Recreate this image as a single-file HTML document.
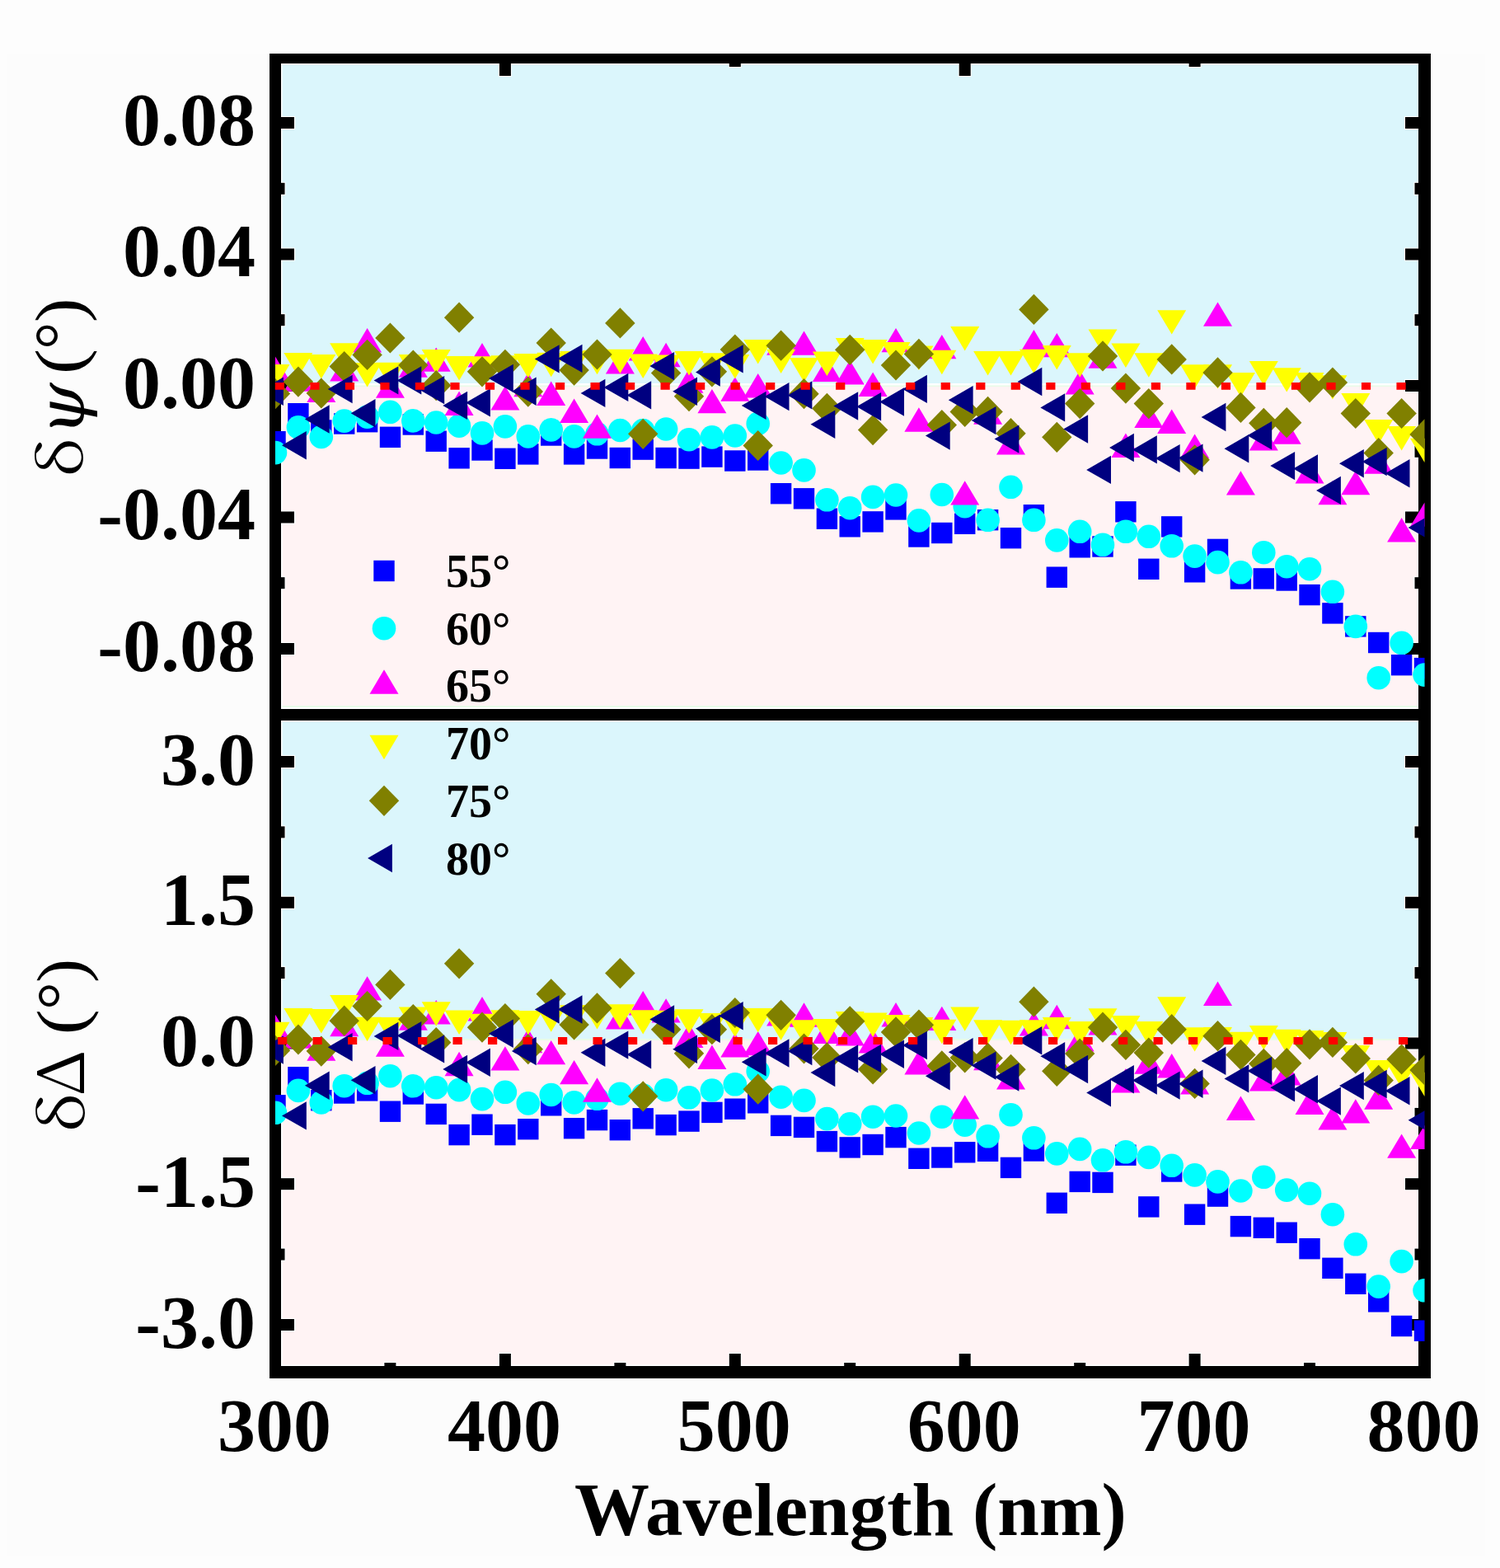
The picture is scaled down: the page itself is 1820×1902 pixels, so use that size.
<!DOCTYPE html>
<html><head><meta charset="utf-8"><style>
html,body{margin:0;padding:0;background:#FDFDFD;}
body{width:1820px;height:1902px;overflow:hidden;position:relative;}
#g{position:absolute;left:9px;top:65px;width:1793px;height:1822px;background:#FCFCFC;}
svg{position:absolute;left:0;top:0;}
.tk{font-family:'Liberation Serif',serif;font-weight:bold;font-size:92px;fill:#000;}
.lg{font-family:'Liberation Serif',serif;font-weight:bold;font-size:56px;fill:#000;}
.ax{font-family:'Liberation Serif',serif;font-weight:normal;font-size:84px;fill:#000;}
.xl{font-family:'Liberation Serif',serif;font-weight:bold;font-size:91px;fill:#000;}
</style></head><body><div id="g"></div>
<svg width="1820" height="1902" viewBox="0 0 1820 1902">
<defs>
<clipPath id="ct"><rect x="334" y="71" width="1394.5" height="796"/></clipPath>
<clipPath id="cb"><rect x="334" y="867" width="1394.5" height="797"/></clipPath>
</defs>
<!-- backgrounds -->
<rect x="341" y="77" width="1380" height="783" fill="#FFFFFF"/>
<rect x="342.5" y="78.5" width="1378.5" height="386.5" fill="#DBF6FC"/>
<rect x="342.5" y="467.5" width="1378.5" height="1.5" fill="#E8FBE8"/>
<rect x="342.5" y="469" width="1378.5" height="387" fill="#FFF3F4"/>
<rect x="342.5" y="856" width="1378.5" height="2" fill="#E8FBE8"/>
<rect x="341" y="874" width="1380" height="783" fill="#FFFFFF"/>
<rect x="342.5" y="875.5" width="1378.5" height="384.5" fill="#DBF6FC"/>
<rect x="342.5" y="1260" width="1378.5" height="2" fill="#E8FBE8"/>
<rect x="342.5" y="1262" width="1378.5" height="393.5" fill="#FFF3F4"/>
<rect x="341" y="141.0" width="17" height="16" fill="#fff"/><rect x="1704" y="141.0" width="17" height="16" fill="#fff"/><rect x="341" y="300.5" width="17" height="16" fill="#fff"/><rect x="1704" y="300.5" width="17" height="16" fill="#fff"/><rect x="341" y="460.0" width="17" height="16" fill="#fff"/><rect x="1704" y="460.0" width="17" height="16" fill="#fff"/><rect x="341" y="619.5" width="17" height="16" fill="#fff"/><rect x="1704" y="619.5" width="17" height="16" fill="#fff"/><rect x="341" y="779.0" width="17" height="16" fill="#fff"/><rect x="1704" y="779.0" width="17" height="16" fill="#fff"/><rect x="341" y="220.8" width="5.5" height="16" fill="#fff"/><rect x="1715.5" y="220.8" width="5.5" height="16" fill="#fff"/><rect x="341" y="380.2" width="5.5" height="16" fill="#fff"/><rect x="1715.5" y="380.2" width="5.5" height="16" fill="#fff"/><rect x="341" y="539.8" width="5.5" height="16" fill="#fff"/><rect x="1715.5" y="539.8" width="5.5" height="16" fill="#fff"/><rect x="341" y="699.2" width="5.5" height="16" fill="#fff"/><rect x="1715.5" y="699.2" width="5.5" height="16" fill="#fff"/><rect x="341" y="916.0" width="17" height="16" fill="#fff"/><rect x="1704" y="916.0" width="17" height="16" fill="#fff"/><rect x="341" y="1086.8" width="17" height="16" fill="#fff"/><rect x="1704" y="1086.8" width="17" height="16" fill="#fff"/><rect x="341" y="1257.5" width="17" height="16" fill="#fff"/><rect x="1704" y="1257.5" width="17" height="16" fill="#fff"/><rect x="341" y="1428.2" width="17" height="16" fill="#fff"/><rect x="1704" y="1428.2" width="17" height="16" fill="#fff"/><rect x="341" y="1599.0" width="17" height="16" fill="#fff"/><rect x="1704" y="1599.0" width="17" height="16" fill="#fff"/><rect x="341" y="1001.4" width="5.5" height="16" fill="#fff"/><rect x="1715.5" y="1001.4" width="5.5" height="16" fill="#fff"/><rect x="341" y="1172.1" width="5.5" height="16" fill="#fff"/><rect x="1715.5" y="1172.1" width="5.5" height="16" fill="#fff"/><rect x="341" y="1342.9" width="5.5" height="16" fill="#fff"/><rect x="1715.5" y="1342.9" width="5.5" height="16" fill="#fff"/><rect x="341" y="1513.6" width="5.5" height="16" fill="#fff"/><rect x="1715.5" y="1513.6" width="5.5" height="16" fill="#fff"/><rect x="465.4" y="1652" width="16" height="5" fill="#fff"/><rect x="604.9" y="1641" width="16" height="16" fill="#fff"/><rect x="744.4" y="1652" width="16" height="5" fill="#fff"/><rect x="883.8" y="1641" width="16" height="16" fill="#fff"/><rect x="1023.2" y="1652" width="16" height="5" fill="#fff"/><rect x="1162.7" y="1641" width="16" height="16" fill="#fff"/><rect x="1302.2" y="1652" width="16" height="5" fill="#fff"/><rect x="1441.6" y="1641" width="16" height="16" fill="#fff"/><rect x="1581.0" y="1652" width="16" height="5" fill="#fff"/><rect x="604.9" y="77" width="16" height="16" fill="#fff"/><rect x="883.8" y="77" width="16" height="5" fill="#fff"/><rect x="1162.7" y="77" width="16" height="16" fill="#fff"/><rect x="1441.6" y="77" width="16" height="5" fill="#fff"/>
<!-- frame -->
<rect x="327" y="65" width="1409" height="12" fill="#000"/>
<rect x="327" y="860" width="1409" height="14" fill="#000"/>
<rect x="327" y="1657" width="1409" height="15" fill="#000"/>
<rect x="327" y="65" width="14" height="1607" fill="#000"/>
<rect x="1721" y="65" width="15" height="1607" fill="#000"/>
<rect x="341" y="142.0" width="16" height="14" fill="#000"/><rect x="1705" y="142.0" width="16" height="14" fill="#000"/><rect x="341" y="301.5" width="16" height="14" fill="#000"/><rect x="1705" y="301.5" width="16" height="14" fill="#000"/><rect x="341" y="461.0" width="16" height="14" fill="#000"/><rect x="1705" y="461.0" width="16" height="14" fill="#000"/><rect x="341" y="620.5" width="16" height="14" fill="#000"/><rect x="1705" y="620.5" width="16" height="14" fill="#000"/><rect x="341" y="780.0" width="16" height="14" fill="#000"/><rect x="1705" y="780.0" width="16" height="14" fill="#000"/><rect x="341" y="221.8" width="4.5" height="14" fill="#000"/><rect x="1716.5" y="221.8" width="4.5" height="14" fill="#000"/><rect x="341" y="381.2" width="4.5" height="14" fill="#000"/><rect x="1716.5" y="381.2" width="4.5" height="14" fill="#000"/><rect x="341" y="540.8" width="4.5" height="14" fill="#000"/><rect x="1716.5" y="540.8" width="4.5" height="14" fill="#000"/><rect x="341" y="700.2" width="4.5" height="14" fill="#000"/><rect x="1716.5" y="700.2" width="4.5" height="14" fill="#000"/><rect x="341" y="917.0" width="16" height="14" fill="#000"/><rect x="1705" y="917.0" width="16" height="14" fill="#000"/><rect x="341" y="1087.8" width="16" height="14" fill="#000"/><rect x="1705" y="1087.8" width="16" height="14" fill="#000"/><rect x="341" y="1258.5" width="16" height="14" fill="#000"/><rect x="1705" y="1258.5" width="16" height="14" fill="#000"/><rect x="341" y="1429.2" width="16" height="14" fill="#000"/><rect x="1705" y="1429.2" width="16" height="14" fill="#000"/><rect x="341" y="1600.0" width="16" height="14" fill="#000"/><rect x="1705" y="1600.0" width="16" height="14" fill="#000"/><rect x="341" y="1002.4" width="4.5" height="14" fill="#000"/><rect x="1716.5" y="1002.4" width="4.5" height="14" fill="#000"/><rect x="341" y="1173.1" width="4.5" height="14" fill="#000"/><rect x="1716.5" y="1173.1" width="4.5" height="14" fill="#000"/><rect x="341" y="1343.9" width="4.5" height="14" fill="#000"/><rect x="1716.5" y="1343.9" width="4.5" height="14" fill="#000"/><rect x="341" y="1514.6" width="4.5" height="14" fill="#000"/><rect x="1716.5" y="1514.6" width="4.5" height="14" fill="#000"/><rect x="466.4" y="1653" width="14" height="4" fill="#000"/><rect x="605.9" y="1642" width="14" height="15" fill="#000"/><rect x="745.4" y="1653" width="14" height="4" fill="#000"/><rect x="884.8" y="1642" width="14" height="15" fill="#000"/><rect x="1024.2" y="1653" width="14" height="4" fill="#000"/><rect x="1163.7" y="1642" width="14" height="15" fill="#000"/><rect x="1303.2" y="1653" width="14" height="4" fill="#000"/><rect x="1442.6" y="1642" width="14" height="15" fill="#000"/><rect x="1582.0" y="1653" width="14" height="4" fill="#000"/><rect x="605.9" y="77" width="14" height="15" fill="#000"/><rect x="884.8" y="77" width="14" height="4" fill="#000"/><rect x="1163.7" y="77" width="14" height="15" fill="#000"/><rect x="1442.6" y="77" width="14" height="4" fill="#000"/>
<g clip-path="url(#ct)">
<rect x="321.3" y="523.0" width="25.4" height="25.4" fill="#0000FF"/>
<rect x="349.2" y="489.0" width="25.4" height="25.4" fill="#0000FF"/>
<rect x="377.1" y="509.3" width="25.4" height="25.4" fill="#0000FF"/>
<rect x="405.0" y="501.3" width="25.4" height="25.4" fill="#0000FF"/>
<rect x="432.9" y="499.0" width="25.4" height="25.4" fill="#0000FF"/>
<rect x="460.8" y="517.6" width="25.4" height="25.4" fill="#0000FF"/>
<rect x="488.6" y="502.3" width="25.4" height="25.4" fill="#0000FF"/>
<rect x="516.5" y="522.5" width="25.4" height="25.4" fill="#0000FF"/>
<rect x="544.4" y="543.1" width="25.4" height="25.4" fill="#0000FF"/>
<rect x="572.3" y="533.3" width="25.4" height="25.4" fill="#0000FF"/>
<rect x="600.2" y="543.6" width="25.4" height="25.4" fill="#0000FF"/>
<rect x="628.1" y="538.2" width="25.4" height="25.4" fill="#0000FF"/>
<rect x="656.0" y="515.3" width="25.4" height="25.4" fill="#0000FF"/>
<rect x="683.9" y="538.2" width="25.4" height="25.4" fill="#0000FF"/>
<rect x="711.8" y="531.3" width="25.4" height="25.4" fill="#0000FF"/>
<rect x="739.6" y="542.8" width="25.4" height="25.4" fill="#0000FF"/>
<rect x="767.5" y="532.4" width="25.4" height="25.4" fill="#0000FF"/>
<rect x="795.4" y="542.8" width="25.4" height="25.4" fill="#0000FF"/>
<rect x="823.3" y="543.4" width="25.4" height="25.4" fill="#0000FF"/>
<rect x="851.2" y="541.4" width="25.4" height="25.4" fill="#0000FF"/>
<rect x="879.1" y="546.3" width="25.4" height="25.4" fill="#0000FF"/>
<rect x="907.0" y="545.3" width="25.4" height="25.4" fill="#0000FF"/>
<rect x="934.9" y="586.0" width="25.4" height="25.4" fill="#0000FF"/>
<rect x="962.8" y="592.1" width="25.4" height="25.4" fill="#0000FF"/>
<rect x="990.7" y="616.5" width="25.4" height="25.4" fill="#0000FF"/>
<rect x="1018.5" y="626.1" width="25.4" height="25.4" fill="#0000FF"/>
<rect x="1046.4" y="620.2" width="25.4" height="25.4" fill="#0000FF"/>
<rect x="1074.3" y="605.2" width="25.4" height="25.4" fill="#0000FF"/>
<rect x="1102.2" y="638.3" width="25.4" height="25.4" fill="#0000FF"/>
<rect x="1130.1" y="633.8" width="25.4" height="25.4" fill="#0000FF"/>
<rect x="1158.0" y="622.6" width="25.4" height="25.4" fill="#0000FF"/>
<rect x="1185.9" y="618.0" width="25.4" height="25.4" fill="#0000FF"/>
<rect x="1213.8" y="640.0" width="25.4" height="25.4" fill="#0000FF"/>
<rect x="1241.7" y="612.0" width="25.4" height="25.4" fill="#0000FF"/>
<rect x="1269.6" y="687.5" width="25.4" height="25.4" fill="#0000FF"/>
<rect x="1297.5" y="651.1" width="25.4" height="25.4" fill="#0000FF"/>
<rect x="1325.3" y="650.3" width="25.4" height="25.4" fill="#0000FF"/>
<rect x="1353.2" y="608.1" width="25.4" height="25.4" fill="#0000FF"/>
<rect x="1381.1" y="677.6" width="25.4" height="25.4" fill="#0000FF"/>
<rect x="1409.0" y="626.2" width="25.4" height="25.4" fill="#0000FF"/>
<rect x="1436.9" y="681.1" width="25.4" height="25.4" fill="#0000FF"/>
<rect x="1464.8" y="653.7" width="25.4" height="25.4" fill="#0000FF"/>
<rect x="1492.7" y="689.3" width="25.4" height="25.4" fill="#0000FF"/>
<rect x="1520.6" y="689.2" width="25.4" height="25.4" fill="#0000FF"/>
<rect x="1548.5" y="691.3" width="25.4" height="25.4" fill="#0000FF"/>
<rect x="1576.3" y="708.9" width="25.4" height="25.4" fill="#0000FF"/>
<rect x="1604.2" y="731.2" width="25.4" height="25.4" fill="#0000FF"/>
<rect x="1632.1" y="747.2" width="25.4" height="25.4" fill="#0000FF"/>
<rect x="1660.0" y="766.8" width="25.4" height="25.4" fill="#0000FF"/>
<rect x="1687.9" y="794.0" width="25.4" height="25.4" fill="#0000FF"/>
<rect x="1715.8" y="797.9" width="25.4" height="25.4" fill="#0000FF"/>
<circle cx="334.0" cy="549.1" r="14.3" fill="#00FFFF"/>
<circle cx="361.9" cy="518.4" r="14.3" fill="#00FFFF"/>
<circle cx="389.8" cy="530.0" r="14.3" fill="#00FFFF"/>
<circle cx="417.7" cy="510.6" r="14.3" fill="#00FFFF"/>
<circle cx="445.6" cy="505.6" r="14.3" fill="#00FFFF"/>
<circle cx="473.4" cy="499.8" r="14.3" fill="#00FFFF"/>
<circle cx="501.3" cy="510.4" r="14.3" fill="#00FFFF"/>
<circle cx="529.2" cy="512.5" r="14.3" fill="#00FFFF"/>
<circle cx="557.1" cy="516.7" r="14.3" fill="#00FFFF"/>
<circle cx="585.0" cy="525.4" r="14.3" fill="#00FFFF"/>
<circle cx="612.9" cy="517.4" r="14.3" fill="#00FFFF"/>
<circle cx="640.8" cy="529.4" r="14.3" fill="#00FFFF"/>
<circle cx="668.7" cy="521.4" r="14.3" fill="#00FFFF"/>
<circle cx="696.6" cy="529.4" r="14.3" fill="#00FFFF"/>
<circle cx="724.5" cy="526.3" r="14.3" fill="#00FFFF"/>
<circle cx="752.4" cy="522.0" r="14.3" fill="#00FFFF"/>
<circle cx="780.2" cy="522.0" r="14.3" fill="#00FFFF"/>
<circle cx="808.1" cy="520.5" r="14.3" fill="#00FFFF"/>
<circle cx="836.0" cy="533.2" r="14.3" fill="#00FFFF"/>
<circle cx="863.9" cy="530.4" r="14.3" fill="#00FFFF"/>
<circle cx="891.8" cy="528.5" r="14.3" fill="#00FFFF"/>
<circle cx="919.7" cy="513.9" r="14.3" fill="#00FFFF"/>
<circle cx="947.6" cy="561.5" r="14.3" fill="#00FFFF"/>
<circle cx="975.5" cy="570.4" r="14.3" fill="#00FFFF"/>
<circle cx="1003.4" cy="606.3" r="14.3" fill="#00FFFF"/>
<circle cx="1031.2" cy="616.2" r="14.3" fill="#00FFFF"/>
<circle cx="1059.1" cy="602.9" r="14.3" fill="#00FFFF"/>
<circle cx="1087.0" cy="600.5" r="14.3" fill="#00FFFF"/>
<circle cx="1114.9" cy="631.4" r="14.3" fill="#00FFFF"/>
<circle cx="1142.8" cy="600.0" r="14.3" fill="#00FFFF"/>
<circle cx="1170.7" cy="614.2" r="14.3" fill="#00FFFF"/>
<circle cx="1198.6" cy="630.8" r="14.3" fill="#00FFFF"/>
<circle cx="1226.5" cy="590.8" r="14.3" fill="#00FFFF"/>
<circle cx="1254.4" cy="630.8" r="14.3" fill="#00FFFF"/>
<circle cx="1282.3" cy="655.4" r="14.3" fill="#00FFFF"/>
<circle cx="1310.2" cy="644.8" r="14.3" fill="#00FFFF"/>
<circle cx="1338.0" cy="660.8" r="14.3" fill="#00FFFF"/>
<circle cx="1365.9" cy="644.8" r="14.3" fill="#00FFFF"/>
<circle cx="1393.8" cy="650.8" r="14.3" fill="#00FFFF"/>
<circle cx="1421.7" cy="662.3" r="14.3" fill="#00FFFF"/>
<circle cx="1449.6" cy="674.6" r="14.3" fill="#00FFFF"/>
<circle cx="1477.5" cy="682.1" r="14.3" fill="#00FFFF"/>
<circle cx="1505.4" cy="694.3" r="14.3" fill="#00FFFF"/>
<circle cx="1533.3" cy="670.2" r="14.3" fill="#00FFFF"/>
<circle cx="1561.2" cy="687.2" r="14.3" fill="#00FFFF"/>
<circle cx="1589.0" cy="690.2" r="14.3" fill="#00FFFF"/>
<circle cx="1616.9" cy="717.8" r="14.3" fill="#00FFFF"/>
<circle cx="1644.8" cy="759.9" r="14.3" fill="#00FFFF"/>
<circle cx="1672.7" cy="822.2" r="14.3" fill="#00FFFF"/>
<circle cx="1700.6" cy="779.8" r="14.3" fill="#00FFFF"/>
<circle cx="1728.5" cy="818.6" r="14.3" fill="#00FFFF"/>
<path d="M334.0 432.4L351.5 461.8L316.5 461.8Z" fill="#FF00FF"/>
<path d="M361.9 445.3L379.4 474.7L344.4 474.7Z" fill="#FF00FF"/>
<path d="M389.8 458.6L407.3 488.0L372.3 488.0Z" fill="#FF00FF"/>
<path d="M417.7 433.1L435.2 462.5L400.2 462.5Z" fill="#FF00FF"/>
<path d="M445.6 398.0L463.1 427.4L428.1 427.4Z" fill="#FF00FF"/>
<path d="M473.4 453.4L490.9 482.8L455.9 482.8Z" fill="#FF00FF"/>
<path d="M501.3 428.3L518.8 457.7L483.8 457.7Z" fill="#FF00FF"/>
<path d="M529.2 421.4L546.7 450.8L511.7 450.8Z" fill="#FF00FF"/>
<path d="M557.1 474.6L574.6 504.0L539.6 504.0Z" fill="#FF00FF"/>
<path d="M585.0 416.1L602.5 445.5L567.5 445.5Z" fill="#FF00FF"/>
<path d="M612.9 468.2L630.4 497.6L595.4 497.6Z" fill="#FF00FF"/>
<path d="M640.8 451.9L658.3 481.3L623.3 481.3Z" fill="#FF00FF"/>
<path d="M668.7 462.5L686.2 491.9L651.2 491.9Z" fill="#FF00FF"/>
<path d="M696.6 483.5L714.1 512.9L679.1 512.9Z" fill="#FF00FF"/>
<path d="M724.5 502.4L742.0 531.8L707.0 531.8Z" fill="#FF00FF"/>
<path d="M752.4 424.1L769.9 453.5L734.9 453.5Z" fill="#FF00FF"/>
<path d="M780.2 408.0L797.7 437.4L762.7 437.4Z" fill="#FF00FF"/>
<path d="M808.1 415.8L825.6 445.2L790.6 445.2Z" fill="#FF00FF"/>
<path d="M836.0 447.4L853.5 476.8L818.5 476.8Z" fill="#FF00FF"/>
<path d="M863.9 471.9L881.4 501.3L846.4 501.3Z" fill="#FF00FF"/>
<path d="M891.8 457.3L909.3 486.7L874.3 486.7Z" fill="#FF00FF"/>
<path d="M919.7 453.1L937.2 482.5L902.2 482.5Z" fill="#FF00FF"/>
<path d="M947.6 401.4L965.1 430.8L930.1 430.8Z" fill="#FF00FF"/>
<path d="M975.5 401.4L993.0 430.8L958.0 430.8Z" fill="#FF00FF"/>
<path d="M1003.4 433.5L1020.9 462.9L985.9 462.9Z" fill="#FF00FF"/>
<path d="M1031.2 437.0L1048.8 466.4L1013.8 466.4Z" fill="#FF00FF"/>
<path d="M1059.1 451.5L1076.6 480.9L1041.6 480.9Z" fill="#FF00FF"/>
<path d="M1087.0 397.9L1104.5 427.3L1069.5 427.3Z" fill="#FF00FF"/>
<path d="M1114.9 494.3L1132.4 523.7L1097.4 523.7Z" fill="#FF00FF"/>
<path d="M1142.8 405.9L1160.3 435.3L1125.3 435.3Z" fill="#FF00FF"/>
<path d="M1170.7 583.2L1188.2 612.6L1153.2 612.6Z" fill="#FF00FF"/>
<path d="M1198.6 485.4L1216.1 514.8L1181.1 514.8Z" fill="#FF00FF"/>
<path d="M1226.5 522.1L1244.0 551.5L1209.0 551.5Z" fill="#FF00FF"/>
<path d="M1254.4 399.9L1271.9 429.3L1236.9 429.3Z" fill="#FF00FF"/>
<path d="M1282.3 403.9L1299.8 433.3L1264.8 433.3Z" fill="#FF00FF"/>
<path d="M1310.2 449.2L1327.7 478.6L1292.7 478.6Z" fill="#FF00FF"/>
<path d="M1338.0 417.4L1355.5 446.8L1320.5 446.8Z" fill="#FF00FF"/>
<path d="M1365.9 525.5L1383.4 554.9L1348.4 554.9Z" fill="#FF00FF"/>
<path d="M1393.8 489.7L1411.3 519.1L1376.3 519.1Z" fill="#FF00FF"/>
<path d="M1421.7 496.6L1439.2 526.0L1404.2 526.0Z" fill="#FF00FF"/>
<path d="M1449.6 526.6L1467.1 556.0L1432.1 556.0Z" fill="#FF00FF"/>
<path d="M1477.5 366.4L1495.0 395.8L1460.0 395.8Z" fill="#FF00FF"/>
<path d="M1505.4 571.2L1522.9 600.6L1487.9 600.6Z" fill="#FF00FF"/>
<path d="M1533.3 517.2L1550.8 546.6L1515.8 546.6Z" fill="#FF00FF"/>
<path d="M1561.2 509.3L1578.7 538.7L1543.7 538.7Z" fill="#FF00FF"/>
<path d="M1589.0 557.0L1606.5 586.4L1571.5 586.4Z" fill="#FF00FF"/>
<path d="M1616.9 582.9L1634.4 612.3L1599.4 612.3Z" fill="#FF00FF"/>
<path d="M1644.8 570.9L1662.3 600.3L1627.3 600.3Z" fill="#FF00FF"/>
<path d="M1672.7 545.3L1690.2 574.7L1655.2 574.7Z" fill="#FF00FF"/>
<path d="M1700.6 628.0L1718.1 657.4L1683.1 657.4Z" fill="#FF00FF"/>
<path d="M1728.5 609.4L1746.0 638.8L1711.0 638.8Z" fill="#FF00FF"/>
<path d="M334.0 471.4L351.5 442.0L316.5 442.0Z" fill="#FFFF00"/>
<path d="M361.9 457.3L379.4 427.9L344.4 427.9Z" fill="#FFFF00"/>
<path d="M389.8 459.4L407.3 430.0L372.3 430.0Z" fill="#FFFF00"/>
<path d="M417.7 445.7L435.2 416.3L400.2 416.3Z" fill="#FFFF00"/>
<path d="M445.6 469.4L463.1 440.0L428.1 440.0Z" fill="#FFFF00"/>
<path d="M473.4 469.2L490.9 439.8L455.9 439.8Z" fill="#FFFF00"/>
<path d="M501.3 459.4L518.8 430.0L483.8 430.0Z" fill="#FFFF00"/>
<path d="M529.2 453.4L546.7 424.0L511.7 424.0Z" fill="#FFFF00"/>
<path d="M557.1 461.4L574.6 432.0L539.6 432.0Z" fill="#FFFF00"/>
<path d="M585.0 461.7L602.5 432.3L567.5 432.3Z" fill="#FFFF00"/>
<path d="M612.9 460.6L630.4 431.2L595.4 431.2Z" fill="#FFFF00"/>
<path d="M640.8 458.4L658.3 429.0L623.3 429.0Z" fill="#FFFF00"/>
<path d="M668.7 457.2L686.2 427.8L651.2 427.8Z" fill="#FFFF00"/>
<path d="M696.6 455.4L714.1 426.0L679.1 426.0Z" fill="#FFFF00"/>
<path d="M724.5 454.3L742.0 424.9L707.0 424.9Z" fill="#FFFF00"/>
<path d="M752.4 453.1L769.9 423.7L734.9 423.7Z" fill="#FFFF00"/>
<path d="M780.2 458.9L797.7 429.5L762.7 429.5Z" fill="#FFFF00"/>
<path d="M808.1 460.0L825.6 430.6L790.6 430.6Z" fill="#FFFF00"/>
<path d="M836.0 455.4L853.5 426.0L818.5 426.0Z" fill="#FFFF00"/>
<path d="M863.9 457.7L881.4 428.3L846.4 428.3Z" fill="#FFFF00"/>
<path d="M891.8 459.5L909.3 430.1L874.3 430.1Z" fill="#FFFF00"/>
<path d="M919.7 441.5L937.2 412.1L902.2 412.1Z" fill="#FFFF00"/>
<path d="M947.6 453.1L965.1 423.7L930.1 423.7Z" fill="#FFFF00"/>
<path d="M975.5 463.5L993.0 434.1L958.0 434.1Z" fill="#FFFF00"/>
<path d="M1003.4 456.0L1020.9 426.6L985.9 426.6Z" fill="#FFFF00"/>
<path d="M1031.2 439.4L1048.8 410.0L1013.8 410.0Z" fill="#FFFF00"/>
<path d="M1059.1 441.5L1076.6 412.1L1041.6 412.1Z" fill="#FFFF00"/>
<path d="M1087.0 444.4L1104.5 415.0L1069.5 415.0Z" fill="#FFFF00"/>
<path d="M1114.9 449.0L1132.4 419.6L1097.4 419.6Z" fill="#FFFF00"/>
<path d="M1142.8 454.2L1160.3 424.8L1125.3 424.8Z" fill="#FFFF00"/>
<path d="M1170.7 425.5L1188.2 396.1L1153.2 396.1Z" fill="#FFFF00"/>
<path d="M1198.6 455.4L1216.1 426.0L1181.1 426.0Z" fill="#FFFF00"/>
<path d="M1226.5 455.4L1244.0 426.0L1209.0 426.0Z" fill="#FFFF00"/>
<path d="M1254.4 453.1L1271.9 423.7L1236.9 423.7Z" fill="#FFFF00"/>
<path d="M1282.3 448.4L1299.8 419.0L1264.8 419.0Z" fill="#FFFF00"/>
<path d="M1310.2 457.7L1327.7 428.3L1292.7 428.3Z" fill="#FFFF00"/>
<path d="M1338.0 428.8L1355.5 399.4L1320.5 399.4Z" fill="#FFFF00"/>
<path d="M1365.9 445.9L1383.4 416.5L1348.4 416.5Z" fill="#FFFF00"/>
<path d="M1393.8 457.7L1411.3 428.3L1376.3 428.3Z" fill="#FFFF00"/>
<path d="M1421.7 405.6L1439.2 376.2L1404.2 376.2Z" fill="#FFFF00"/>
<path d="M1449.6 471.6L1467.1 442.2L1432.1 442.2Z" fill="#FFFF00"/>
<path d="M1477.5 471.6L1495.0 442.2L1460.0 442.2Z" fill="#FFFF00"/>
<path d="M1505.4 481.4L1522.9 452.0L1487.9 452.0Z" fill="#FFFF00"/>
<path d="M1533.3 467.5L1550.8 438.1L1515.8 438.1Z" fill="#FFFF00"/>
<path d="M1561.2 475.6L1578.7 446.2L1543.7 446.2Z" fill="#FFFF00"/>
<path d="M1589.0 481.3L1606.5 451.9L1571.5 451.9Z" fill="#FFFF00"/>
<path d="M1616.9 484.6L1634.4 455.2L1599.4 455.2Z" fill="#FFFF00"/>
<path d="M1644.8 506.5L1662.3 477.1L1627.3 477.1Z" fill="#FFFF00"/>
<path d="M1672.7 538.4L1690.2 509.0L1655.2 509.0Z" fill="#FFFF00"/>
<path d="M1700.6 546.4L1718.1 517.0L1683.1 517.0Z" fill="#FFFF00"/>
<path d="M1728.5 561.1L1746.0 531.7L1711.0 531.7Z" fill="#FFFF00"/>
<path d="M334.0 459.0L352.2 477.6L334.0 496.2L315.8 477.6Z" fill="#808000"/>
<path d="M361.9 444.5L380.1 463.1L361.9 481.7L343.7 463.1Z" fill="#808000"/>
<path d="M389.8 458.4L408.0 477.0L389.8 495.6L371.6 477.0Z" fill="#808000"/>
<path d="M417.7 425.9L435.9 444.5L417.7 463.1L399.5 444.5Z" fill="#808000"/>
<path d="M445.6 411.8L463.8 430.4L445.6 449.0L427.4 430.4Z" fill="#808000"/>
<path d="M473.4 391.4L491.6 410.0L473.4 428.6L455.2 410.0Z" fill="#808000"/>
<path d="M501.3 424.4L519.5 443.0L501.3 461.6L483.1 443.0Z" fill="#808000"/>
<path d="M529.2 449.0L547.4 467.6L529.2 486.2L511.0 467.6Z" fill="#808000"/>
<path d="M557.1 366.6L575.3 385.2L557.1 403.8L538.9 385.2Z" fill="#808000"/>
<path d="M585.0 432.2L603.2 450.8L585.0 469.4L566.8 450.8Z" fill="#808000"/>
<path d="M612.9 423.7L631.1 442.3L612.9 460.9L594.7 442.3Z" fill="#808000"/>
<path d="M640.8 456.5L659.0 475.1L640.8 493.7L622.6 475.1Z" fill="#808000"/>
<path d="M668.7 397.4L686.9 416.0L668.7 434.6L650.5 416.0Z" fill="#808000"/>
<path d="M696.6 430.5L714.8 449.1L696.6 467.7L678.4 449.1Z" fill="#808000"/>
<path d="M724.5 411.4L742.7 430.0L724.5 448.6L706.3 430.0Z" fill="#808000"/>
<path d="M752.4 373.3L770.6 391.9L752.4 410.5L734.1 391.9Z" fill="#808000"/>
<path d="M780.2 507.7L798.4 526.3L780.2 544.9L762.0 526.3Z" fill="#808000"/>
<path d="M808.1 434.0L826.3 452.6L808.1 471.2L789.9 452.6Z" fill="#808000"/>
<path d="M836.0 462.1L854.2 480.7L836.0 499.3L817.8 480.7Z" fill="#808000"/>
<path d="M863.9 432.2L882.1 450.8L863.9 469.4L845.7 450.8Z" fill="#808000"/>
<path d="M891.8 405.4L910.0 424.0L891.8 442.6L873.6 424.0Z" fill="#808000"/>
<path d="M919.7 521.9L937.9 540.5L919.7 559.1L901.5 540.5Z" fill="#808000"/>
<path d="M947.6 400.6L965.8 419.2L947.6 437.8L929.4 419.2Z" fill="#808000"/>
<path d="M975.5 459.1L993.7 477.7L975.5 496.3L957.3 477.7Z" fill="#808000"/>
<path d="M1003.4 476.8L1021.6 495.4L1003.4 514.0L985.2 495.4Z" fill="#808000"/>
<path d="M1031.2 405.7L1049.5 424.3L1031.2 442.9L1013.0 424.3Z" fill="#808000"/>
<path d="M1059.1 503.0L1077.3 521.6L1059.1 540.2L1040.9 521.6Z" fill="#808000"/>
<path d="M1087.0 424.4L1105.2 443.0L1087.0 461.6L1068.8 443.0Z" fill="#808000"/>
<path d="M1114.9 410.8L1133.1 429.4L1114.9 448.0L1096.7 429.4Z" fill="#808000"/>
<path d="M1142.8 497.0L1161.0 515.6L1142.8 534.2L1124.6 515.6Z" fill="#808000"/>
<path d="M1170.7 480.8L1188.9 499.4L1170.7 518.0L1152.5 499.4Z" fill="#808000"/>
<path d="M1198.6 480.8L1216.8 499.4L1198.6 518.0L1180.4 499.4Z" fill="#808000"/>
<path d="M1226.5 507.1L1244.7 525.7L1226.5 544.3L1208.3 525.7Z" fill="#808000"/>
<path d="M1254.4 356.8L1272.6 375.4L1254.4 394.0L1236.2 375.4Z" fill="#808000"/>
<path d="M1282.3 511.7L1300.5 530.3L1282.3 548.9L1264.1 530.3Z" fill="#808000"/>
<path d="M1310.2 471.0L1328.4 489.6L1310.2 508.2L1292.0 489.6Z" fill="#808000"/>
<path d="M1338.0 413.3L1356.2 431.9L1338.0 450.5L1319.8 431.9Z" fill="#808000"/>
<path d="M1365.9 452.5L1384.1 471.1L1365.9 489.7L1347.7 471.1Z" fill="#808000"/>
<path d="M1393.8 471.0L1412.0 489.6L1393.8 508.2L1375.6 489.6Z" fill="#808000"/>
<path d="M1421.7 417.3L1439.9 435.9L1421.7 454.5L1403.5 435.9Z" fill="#808000"/>
<path d="M1449.6 539.2L1467.8 557.8L1449.6 576.4L1431.4 557.8Z" fill="#808000"/>
<path d="M1477.5 433.3L1495.7 451.9L1477.5 470.5L1459.3 451.9Z" fill="#808000"/>
<path d="M1505.4 475.8L1523.6 494.4L1505.4 513.0L1487.2 494.4Z" fill="#808000"/>
<path d="M1533.3 494.7L1551.5 513.3L1533.3 531.9L1515.1 513.3Z" fill="#808000"/>
<path d="M1561.2 494.1L1579.4 512.7L1561.2 531.3L1543.0 512.7Z" fill="#808000"/>
<path d="M1589.0 451.2L1607.2 469.8L1589.0 488.4L1570.8 469.8Z" fill="#808000"/>
<path d="M1616.9 445.4L1635.1 464.0L1616.9 482.6L1598.7 464.0Z" fill="#808000"/>
<path d="M1644.8 482.9L1663.0 501.5L1644.8 520.1L1626.6 501.5Z" fill="#808000"/>
<path d="M1672.7 531.0L1690.9 549.6L1672.7 568.2L1654.5 549.6Z" fill="#808000"/>
<path d="M1700.6 482.9L1718.8 501.5L1700.6 520.1L1682.4 501.5Z" fill="#808000"/>
<path d="M1728.5 508.3L1746.7 526.9L1728.5 545.5L1710.3 526.9Z" fill="#808000"/>
<path d="M314.1 474.7L343.9 457.5L343.9 491.9Z" fill="#000080"/>
<path d="M342.0 540.3L371.8 523.1L371.8 557.5Z" fill="#000080"/>
<path d="M369.9 508.5L399.7 491.3L399.7 525.7Z" fill="#000080"/>
<path d="M397.8 472.0L427.6 454.8L427.6 489.2Z" fill="#000080"/>
<path d="M425.7 501.3L455.5 484.1L455.5 518.5Z" fill="#000080"/>
<path d="M453.6 461.4L483.4 444.2L483.4 478.6Z" fill="#000080"/>
<path d="M481.5 461.4L511.3 444.2L511.3 478.6Z" fill="#000080"/>
<path d="M509.4 473.1L539.2 455.9L539.2 490.3Z" fill="#000080"/>
<path d="M537.3 491.9L567.1 474.7L567.1 509.1Z" fill="#000080"/>
<path d="M565.1 488.4L594.9 471.2L594.9 505.6Z" fill="#000080"/>
<path d="M593.0 458.9L622.8 441.7L622.8 476.1Z" fill="#000080"/>
<path d="M620.9 474.8L650.7 457.6L650.7 492.0Z" fill="#000080"/>
<path d="M648.8 435.4L678.6 418.2L678.6 452.6Z" fill="#000080"/>
<path d="M676.7 434.9L706.5 417.7L706.5 452.1Z" fill="#000080"/>
<path d="M704.6 476.9L734.4 459.7L734.4 494.1Z" fill="#000080"/>
<path d="M732.5 469.9L762.3 452.7L762.3 487.1Z" fill="#000080"/>
<path d="M760.4 479.4L790.2 462.2L790.2 496.6Z" fill="#000080"/>
<path d="M788.3 444.1L818.1 426.9L818.1 461.3Z" fill="#000080"/>
<path d="M816.2 474.8L846.0 457.6L846.0 492.0Z" fill="#000080"/>
<path d="M844.0 451.6L873.8 434.4L873.8 468.8Z" fill="#000080"/>
<path d="M871.9 435.4L901.7 418.2L901.7 452.6Z" fill="#000080"/>
<path d="M899.8 491.9L929.6 474.7L929.6 509.1Z" fill="#000080"/>
<path d="M927.7 481.1L957.5 463.9L957.5 498.3Z" fill="#000080"/>
<path d="M955.6 479.4L985.4 462.2L985.4 496.6Z" fill="#000080"/>
<path d="M983.5 514.7L1013.3 497.5L1013.3 531.9Z" fill="#000080"/>
<path d="M1011.4 492.5L1041.2 475.3L1041.2 509.7Z" fill="#000080"/>
<path d="M1039.3 493.3L1069.1 476.1L1069.1 510.5Z" fill="#000080"/>
<path d="M1067.2 487.5L1097.0 470.3L1097.0 504.7Z" fill="#000080"/>
<path d="M1095.1 471.9L1124.9 454.7L1124.9 489.1Z" fill="#000080"/>
<path d="M1122.9 528.6L1152.7 511.4L1152.7 545.8Z" fill="#000080"/>
<path d="M1150.8 485.2L1180.6 468.0L1180.6 502.4Z" fill="#000080"/>
<path d="M1178.7 510.1L1208.5 492.9L1208.5 527.3Z" fill="#000080"/>
<path d="M1206.6 532.6L1236.4 515.4L1236.4 549.8Z" fill="#000080"/>
<path d="M1234.5 463.0L1264.3 445.8L1264.3 480.2Z" fill="#000080"/>
<path d="M1262.4 494.4L1292.2 477.2L1292.2 511.6Z" fill="#000080"/>
<path d="M1290.3 520.5L1320.1 503.3L1320.1 537.7Z" fill="#000080"/>
<path d="M1318.2 569.9L1348.0 552.7L1348.0 587.1Z" fill="#000080"/>
<path d="M1346.1 543.0L1375.9 525.8L1375.9 560.2Z" fill="#000080"/>
<path d="M1374.0 545.4L1403.8 528.2L1403.8 562.6Z" fill="#000080"/>
<path d="M1401.8 556.1L1431.6 538.9L1431.6 573.3Z" fill="#000080"/>
<path d="M1429.7 555.6L1459.5 538.4L1459.5 572.8Z" fill="#000080"/>
<path d="M1457.6 506.0L1487.4 488.8L1487.4 523.2Z" fill="#000080"/>
<path d="M1485.5 544.3L1515.3 527.1L1515.3 561.5Z" fill="#000080"/>
<path d="M1513.4 528.3L1543.2 511.1L1543.2 545.5Z" fill="#000080"/>
<path d="M1541.3 565.1L1571.1 547.9L1571.1 582.3Z" fill="#000080"/>
<path d="M1569.2 568.5L1599.0 551.3L1599.0 585.7Z" fill="#000080"/>
<path d="M1597.1 594.9L1626.9 577.7L1626.9 612.1Z" fill="#000080"/>
<path d="M1625.0 562.3L1654.8 545.1L1654.8 579.5Z" fill="#000080"/>
<path d="M1652.9 560.0L1682.7 542.8L1682.7 577.2Z" fill="#000080"/>
<path d="M1680.7 574.3L1710.5 557.1L1710.5 591.5Z" fill="#000080"/>
<path d="M1708.6 640.0L1738.4 622.8L1738.4 657.2Z" fill="#000080"/>
</g>
<g clip-path="url(#cb)">
<rect x="321.3" y="1328.1" width="25.4" height="25.4" fill="#0000FF"/>
<rect x="349.2" y="1294.0" width="25.4" height="25.4" fill="#0000FF"/>
<rect x="377.1" y="1322.0" width="25.4" height="25.4" fill="#0000FF"/>
<rect x="405.0" y="1313.3" width="25.4" height="25.4" fill="#0000FF"/>
<rect x="432.9" y="1310.2" width="25.4" height="25.4" fill="#0000FF"/>
<rect x="460.8" y="1335.5" width="25.4" height="25.4" fill="#0000FF"/>
<rect x="488.6" y="1314.3" width="25.4" height="25.4" fill="#0000FF"/>
<rect x="516.5" y="1338.7" width="25.4" height="25.4" fill="#0000FF"/>
<rect x="544.4" y="1363.9" width="25.4" height="25.4" fill="#0000FF"/>
<rect x="572.3" y="1351.5" width="25.4" height="25.4" fill="#0000FF"/>
<rect x="600.2" y="1363.9" width="25.4" height="25.4" fill="#0000FF"/>
<rect x="628.1" y="1357.0" width="25.4" height="25.4" fill="#0000FF"/>
<rect x="656.0" y="1328.1" width="25.4" height="25.4" fill="#0000FF"/>
<rect x="683.9" y="1356.0" width="25.4" height="25.4" fill="#0000FF"/>
<rect x="711.8" y="1345.9" width="25.4" height="25.4" fill="#0000FF"/>
<rect x="739.6" y="1358.0" width="25.4" height="25.4" fill="#0000FF"/>
<rect x="767.5" y="1344.1" width="25.4" height="25.4" fill="#0000FF"/>
<rect x="795.4" y="1351.9" width="25.4" height="25.4" fill="#0000FF"/>
<rect x="823.3" y="1347.4" width="25.4" height="25.4" fill="#0000FF"/>
<rect x="851.2" y="1336.7" width="25.4" height="25.4" fill="#0000FF"/>
<rect x="879.1" y="1332.5" width="25.4" height="25.4" fill="#0000FF"/>
<rect x="907.0" y="1325.1" width="25.4" height="25.4" fill="#0000FF"/>
<rect x="934.9" y="1352.7" width="25.4" height="25.4" fill="#0000FF"/>
<rect x="962.8" y="1354.7" width="25.4" height="25.4" fill="#0000FF"/>
<rect x="990.7" y="1371.9" width="25.4" height="25.4" fill="#0000FF"/>
<rect x="1018.5" y="1379.2" width="25.4" height="25.4" fill="#0000FF"/>
<rect x="1046.4" y="1375.8" width="25.4" height="25.4" fill="#0000FF"/>
<rect x="1074.3" y="1366.9" width="25.4" height="25.4" fill="#0000FF"/>
<rect x="1102.2" y="1392.6" width="25.4" height="25.4" fill="#0000FF"/>
<rect x="1130.1" y="1391.3" width="25.4" height="25.4" fill="#0000FF"/>
<rect x="1158.0" y="1385.1" width="25.4" height="25.4" fill="#0000FF"/>
<rect x="1185.9" y="1383.6" width="25.4" height="25.4" fill="#0000FF"/>
<rect x="1213.8" y="1403.7" width="25.4" height="25.4" fill="#0000FF"/>
<rect x="1241.7" y="1383.3" width="25.4" height="25.4" fill="#0000FF"/>
<rect x="1269.6" y="1446.6" width="25.4" height="25.4" fill="#0000FF"/>
<rect x="1297.5" y="1420.7" width="25.4" height="25.4" fill="#0000FF"/>
<rect x="1325.3" y="1421.7" width="25.4" height="25.4" fill="#0000FF"/>
<rect x="1353.2" y="1388.5" width="25.4" height="25.4" fill="#0000FF"/>
<rect x="1381.1" y="1451.2" width="25.4" height="25.4" fill="#0000FF"/>
<rect x="1409.0" y="1408.3" width="25.4" height="25.4" fill="#0000FF"/>
<rect x="1436.9" y="1460.5" width="25.4" height="25.4" fill="#0000FF"/>
<rect x="1464.8" y="1438.4" width="25.4" height="25.4" fill="#0000FF"/>
<rect x="1492.7" y="1474.9" width="25.4" height="25.4" fill="#0000FF"/>
<rect x="1520.6" y="1476.6" width="25.4" height="25.4" fill="#0000FF"/>
<rect x="1548.5" y="1482.5" width="25.4" height="25.4" fill="#0000FF"/>
<rect x="1576.3" y="1502.0" width="25.4" height="25.4" fill="#0000FF"/>
<rect x="1604.2" y="1525.6" width="25.4" height="25.4" fill="#0000FF"/>
<rect x="1632.1" y="1544.6" width="25.4" height="25.4" fill="#0000FF"/>
<rect x="1660.0" y="1566.2" width="25.4" height="25.4" fill="#0000FF"/>
<rect x="1687.9" y="1595.8" width="25.4" height="25.4" fill="#0000FF"/>
<rect x="1715.8" y="1601.5" width="25.4" height="25.4" fill="#0000FF"/>
<circle cx="334.0" cy="1349.8" r="14.3" fill="#00FFFF"/>
<circle cx="361.9" cy="1322.9" r="14.3" fill="#00FFFF"/>
<circle cx="389.8" cy="1337.4" r="14.3" fill="#00FFFF"/>
<circle cx="417.7" cy="1317.2" r="14.3" fill="#00FFFF"/>
<circle cx="445.6" cy="1313.8" r="14.3" fill="#00FFFF"/>
<circle cx="473.4" cy="1305.2" r="14.3" fill="#00FFFF"/>
<circle cx="501.3" cy="1317.3" r="14.3" fill="#00FFFF"/>
<circle cx="529.2" cy="1319.2" r="14.3" fill="#00FFFF"/>
<circle cx="557.1" cy="1322.1" r="14.3" fill="#00FFFF"/>
<circle cx="585.0" cy="1333.1" r="14.3" fill="#00FFFF"/>
<circle cx="612.9" cy="1324.8" r="14.3" fill="#00FFFF"/>
<circle cx="640.8" cy="1338.4" r="14.3" fill="#00FFFF"/>
<circle cx="668.7" cy="1328.0" r="14.3" fill="#00FFFF"/>
<circle cx="696.6" cy="1337.4" r="14.3" fill="#00FFFF"/>
<circle cx="724.5" cy="1332.8" r="14.3" fill="#00FFFF"/>
<circle cx="752.4" cy="1326.7" r="14.3" fill="#00FFFF"/>
<circle cx="780.2" cy="1328.5" r="14.3" fill="#00FFFF"/>
<circle cx="808.1" cy="1322.2" r="14.3" fill="#00FFFF"/>
<circle cx="836.0" cy="1331.3" r="14.3" fill="#00FFFF"/>
<circle cx="863.9" cy="1322.5" r="14.3" fill="#00FFFF"/>
<circle cx="891.8" cy="1315.3" r="14.3" fill="#00FFFF"/>
<circle cx="919.7" cy="1299.5" r="14.3" fill="#00FFFF"/>
<circle cx="947.6" cy="1330.7" r="14.3" fill="#00FFFF"/>
<circle cx="975.5" cy="1334.9" r="14.3" fill="#00FFFF"/>
<circle cx="1003.4" cy="1357.1" r="14.3" fill="#00FFFF"/>
<circle cx="1031.2" cy="1363.3" r="14.3" fill="#00FFFF"/>
<circle cx="1059.1" cy="1354.7" r="14.3" fill="#00FFFF"/>
<circle cx="1087.0" cy="1353.5" r="14.3" fill="#00FFFF"/>
<circle cx="1114.9" cy="1374.5" r="14.3" fill="#00FFFF"/>
<circle cx="1142.8" cy="1354.7" r="14.3" fill="#00FFFF"/>
<circle cx="1170.7" cy="1364.6" r="14.3" fill="#00FFFF"/>
<circle cx="1198.6" cy="1378.3" r="14.3" fill="#00FFFF"/>
<circle cx="1226.5" cy="1352.2" r="14.3" fill="#00FFFF"/>
<circle cx="1254.4" cy="1380.3" r="14.3" fill="#00FFFF"/>
<circle cx="1282.3" cy="1399.4" r="14.3" fill="#00FFFF"/>
<circle cx="1310.2" cy="1393.9" r="14.3" fill="#00FFFF"/>
<circle cx="1338.0" cy="1407.3" r="14.3" fill="#00FFFF"/>
<circle cx="1365.9" cy="1397.3" r="14.3" fill="#00FFFF"/>
<circle cx="1393.8" cy="1403.9" r="14.3" fill="#00FFFF"/>
<circle cx="1421.7" cy="1413.8" r="14.3" fill="#00FFFF"/>
<circle cx="1449.6" cy="1425.4" r="14.3" fill="#00FFFF"/>
<circle cx="1477.5" cy="1433.4" r="14.3" fill="#00FFFF"/>
<circle cx="1505.4" cy="1444.5" r="14.3" fill="#00FFFF"/>
<circle cx="1533.3" cy="1427.8" r="14.3" fill="#00FFFF"/>
<circle cx="1561.2" cy="1443.6" r="14.3" fill="#00FFFF"/>
<circle cx="1589.0" cy="1447.7" r="14.3" fill="#00FFFF"/>
<circle cx="1616.9" cy="1473.2" r="14.3" fill="#00FFFF"/>
<circle cx="1644.8" cy="1509.3" r="14.3" fill="#00FFFF"/>
<circle cx="1672.7" cy="1560.6" r="14.3" fill="#00FFFF"/>
<circle cx="1700.6" cy="1530.1" r="14.3" fill="#00FFFF"/>
<circle cx="1728.5" cy="1565.3" r="14.3" fill="#00FFFF"/>
<path d="M334.0 1230.7L351.5 1260.1L316.5 1260.1Z" fill="#FF00FF"/>
<path d="M361.9 1242.4L379.4 1271.8L344.4 1271.8Z" fill="#FF00FF"/>
<path d="M389.8 1257.3L407.3 1286.7L372.3 1286.7Z" fill="#FF00FF"/>
<path d="M417.7 1227.9L435.2 1257.3L400.2 1257.3Z" fill="#FF00FF"/>
<path d="M445.6 1184.2L463.1 1213.6L428.1 1213.6Z" fill="#FF00FF"/>
<path d="M473.4 1252.4L490.9 1281.8L455.9 1281.8Z" fill="#FF00FF"/>
<path d="M501.3 1220.3L518.8 1249.7L483.8 1249.7Z" fill="#FF00FF"/>
<path d="M529.2 1213.1L546.7 1242.5L511.7 1242.5Z" fill="#FF00FF"/>
<path d="M557.1 1275.8L574.6 1305.2L539.6 1305.2Z" fill="#FF00FF"/>
<path d="M585.0 1209.1L602.5 1238.5L567.5 1238.5Z" fill="#FF00FF"/>
<path d="M612.9 1269.2L630.4 1298.6L595.4 1298.6Z" fill="#FF00FF"/>
<path d="M640.8 1247.8L658.3 1277.2L623.3 1277.2Z" fill="#FF00FF"/>
<path d="M668.7 1261.9L686.2 1291.3L651.2 1291.3Z" fill="#FF00FF"/>
<path d="M696.6 1285.9L714.1 1315.3L679.1 1315.3Z" fill="#FF00FF"/>
<path d="M724.5 1307.3L742.0 1336.7L707.0 1336.7Z" fill="#FF00FF"/>
<path d="M752.4 1219.0L769.9 1248.4L734.9 1248.4Z" fill="#FF00FF"/>
<path d="M780.2 1202.0L797.7 1231.4L762.7 1231.4Z" fill="#FF00FF"/>
<path d="M808.1 1211.2L825.6 1240.6L790.6 1240.6Z" fill="#FF00FF"/>
<path d="M836.0 1241.7L853.5 1271.1L818.5 1271.1Z" fill="#FF00FF"/>
<path d="M863.9 1267.6L881.4 1297.0L846.4 1297.0Z" fill="#FF00FF"/>
<path d="M891.8 1253.1L909.3 1282.5L874.3 1282.5Z" fill="#FF00FF"/>
<path d="M919.7 1250.9L937.2 1280.3L902.2 1280.3Z" fill="#FF00FF"/>
<path d="M947.6 1215.2L965.1 1244.6L930.1 1244.6Z" fill="#FF00FF"/>
<path d="M975.5 1216.3L993.0 1245.7L958.0 1245.7Z" fill="#FF00FF"/>
<path d="M1003.4 1236.7L1020.9 1266.1L985.9 1266.1Z" fill="#FF00FF"/>
<path d="M1031.2 1239.2L1048.8 1268.6L1013.8 1268.6Z" fill="#FF00FF"/>
<path d="M1059.1 1248.0L1076.6 1277.4L1041.6 1277.4Z" fill="#FF00FF"/>
<path d="M1087.0 1216.0L1104.5 1245.4L1069.5 1245.4Z" fill="#FF00FF"/>
<path d="M1114.9 1274.1L1132.4 1303.5L1097.4 1303.5Z" fill="#FF00FF"/>
<path d="M1142.8 1220.7L1160.3 1250.1L1125.3 1250.1Z" fill="#FF00FF"/>
<path d="M1170.7 1328.2L1188.2 1357.6L1153.2 1357.6Z" fill="#FF00FF"/>
<path d="M1198.6 1268.8L1216.1 1298.2L1181.1 1298.2Z" fill="#FF00FF"/>
<path d="M1226.5 1292.2L1244.0 1321.6L1209.0 1321.6Z" fill="#FF00FF"/>
<path d="M1254.4 1227.0L1271.9 1256.4L1236.9 1256.4Z" fill="#FF00FF"/>
<path d="M1282.3 1218.8L1299.8 1248.2L1264.8 1248.2Z" fill="#FF00FF"/>
<path d="M1310.2 1246.1L1327.7 1275.5L1292.7 1275.5Z" fill="#FF00FF"/>
<path d="M1338.0 1226.0L1355.5 1255.4L1320.5 1255.4Z" fill="#FF00FF"/>
<path d="M1365.9 1296.0L1383.4 1325.4L1348.4 1325.4Z" fill="#FF00FF"/>
<path d="M1393.8 1273.3L1411.3 1302.7L1376.3 1302.7Z" fill="#FF00FF"/>
<path d="M1421.7 1278.1L1439.2 1307.5L1404.2 1307.5Z" fill="#FF00FF"/>
<path d="M1449.6 1298.2L1467.1 1327.6L1432.1 1327.6Z" fill="#FF00FF"/>
<path d="M1477.5 1190.6L1495.0 1220.0L1460.0 1220.0Z" fill="#FF00FF"/>
<path d="M1505.4 1329.5L1522.9 1358.9L1487.9 1358.9Z" fill="#FF00FF"/>
<path d="M1533.3 1294.1L1550.8 1323.5L1515.8 1323.5Z" fill="#FF00FF"/>
<path d="M1561.2 1287.1L1578.7 1316.5L1543.7 1316.5Z" fill="#FF00FF"/>
<path d="M1589.0 1322.5L1606.5 1351.9L1571.5 1351.9Z" fill="#FF00FF"/>
<path d="M1616.9 1341.2L1634.4 1370.6L1599.4 1370.6Z" fill="#FF00FF"/>
<path d="M1644.8 1333.2L1662.3 1362.6L1627.3 1362.6Z" fill="#FF00FF"/>
<path d="M1672.7 1316.4L1690.2 1345.8L1655.2 1345.8Z" fill="#FF00FF"/>
<path d="M1700.6 1375.4L1718.1 1404.8L1683.1 1404.8Z" fill="#FF00FF"/>
<path d="M1728.5 1364.7L1746.0 1394.1L1711.0 1394.1Z" fill="#FF00FF"/>
<path d="M334.0 1269.2L351.5 1239.8L316.5 1239.8Z" fill="#FFFF00"/>
<path d="M361.9 1252.3L379.4 1222.9L344.4 1222.9Z" fill="#FFFF00"/>
<path d="M389.8 1253.5L407.3 1224.1L372.3 1224.1Z" fill="#FFFF00"/>
<path d="M417.7 1236.3L435.2 1206.9L400.2 1206.9Z" fill="#FFFF00"/>
<path d="M445.6 1263.1L463.1 1233.7L428.1 1233.7Z" fill="#FFFF00"/>
<path d="M473.4 1263.4L490.9 1234.0L455.9 1234.0Z" fill="#FFFF00"/>
<path d="M501.3 1250.8L518.8 1221.4L483.8 1221.4Z" fill="#FFFF00"/>
<path d="M529.2 1244.7L546.7 1215.3L511.7 1215.3Z" fill="#FFFF00"/>
<path d="M557.1 1254.9L574.6 1225.5L539.6 1225.5Z" fill="#FFFF00"/>
<path d="M585.0 1259.2L602.5 1229.8L567.5 1229.8Z" fill="#FFFF00"/>
<path d="M612.9 1254.6L630.4 1225.2L595.4 1225.2Z" fill="#FFFF00"/>
<path d="M640.8 1255.5L658.3 1226.1L623.3 1226.1Z" fill="#FFFF00"/>
<path d="M668.7 1251.7L686.2 1222.3L651.2 1222.3Z" fill="#FFFF00"/>
<path d="M696.6 1248.6L714.1 1219.2L679.1 1219.2Z" fill="#FFFF00"/>
<path d="M724.5 1248.5L742.0 1219.1L707.0 1219.1Z" fill="#FFFF00"/>
<path d="M752.4 1247.6L769.9 1218.2L734.9 1218.2Z" fill="#FFFF00"/>
<path d="M780.2 1254.6L797.7 1225.2L762.7 1225.2Z" fill="#FFFF00"/>
<path d="M808.1 1255.2L825.6 1225.8L790.6 1225.8Z" fill="#FFFF00"/>
<path d="M836.0 1253.7L853.5 1224.3L818.5 1224.3Z" fill="#FFFF00"/>
<path d="M863.9 1258.4L881.4 1229.0L846.4 1229.0Z" fill="#FFFF00"/>
<path d="M891.8 1258.0L909.3 1228.6L874.3 1228.6Z" fill="#FFFF00"/>
<path d="M919.7 1252.3L937.2 1222.9L902.2 1222.9Z" fill="#FFFF00"/>
<path d="M947.6 1261.8L965.1 1232.4L930.1 1232.4Z" fill="#FFFF00"/>
<path d="M975.5 1266.6L993.0 1237.2L958.0 1237.2Z" fill="#FFFF00"/>
<path d="M1003.4 1265.5L1020.9 1236.1L985.9 1236.1Z" fill="#FFFF00"/>
<path d="M1031.2 1256.5L1048.8 1227.1L1013.8 1227.1Z" fill="#FFFF00"/>
<path d="M1059.1 1258.0L1076.6 1228.6L1041.6 1228.6Z" fill="#FFFF00"/>
<path d="M1087.0 1260.5L1104.5 1231.1L1069.5 1231.1Z" fill="#FFFF00"/>
<path d="M1114.9 1263.4L1132.4 1234.0L1097.4 1234.0Z" fill="#FFFF00"/>
<path d="M1142.8 1266.2L1160.3 1236.8L1125.3 1236.8Z" fill="#FFFF00"/>
<path d="M1170.7 1250.8L1188.2 1221.4L1153.2 1221.4Z" fill="#FFFF00"/>
<path d="M1198.6 1266.6L1216.1 1237.2L1181.1 1237.2Z" fill="#FFFF00"/>
<path d="M1226.5 1267.2L1244.0 1237.8L1209.0 1237.8Z" fill="#FFFF00"/>
<path d="M1254.4 1266.6L1271.9 1237.2L1236.9 1237.2Z" fill="#FFFF00"/>
<path d="M1282.3 1263.4L1299.8 1234.0L1264.8 1234.0Z" fill="#FFFF00"/>
<path d="M1310.2 1268.4L1327.7 1239.0L1292.7 1239.0Z" fill="#FFFF00"/>
<path d="M1338.0 1252.7L1355.5 1223.3L1320.5 1223.3Z" fill="#FFFF00"/>
<path d="M1365.9 1261.5L1383.4 1232.1L1348.4 1232.1Z" fill="#FFFF00"/>
<path d="M1393.8 1268.4L1411.3 1239.0L1376.3 1239.0Z" fill="#FFFF00"/>
<path d="M1421.7 1238.6L1439.2 1209.2L1404.2 1209.2Z" fill="#FFFF00"/>
<path d="M1449.6 1275.6L1467.1 1246.2L1432.1 1246.2Z" fill="#FFFF00"/>
<path d="M1477.5 1275.4L1495.0 1246.0L1460.0 1246.0Z" fill="#FFFF00"/>
<path d="M1505.4 1281.1L1522.9 1251.7L1487.9 1251.7Z" fill="#FFFF00"/>
<path d="M1533.3 1273.5L1550.8 1244.1L1515.8 1244.1Z" fill="#FFFF00"/>
<path d="M1561.2 1278.2L1578.7 1248.8L1543.7 1248.8Z" fill="#FFFF00"/>
<path d="M1589.0 1279.5L1606.5 1250.1L1571.5 1250.1Z" fill="#FFFF00"/>
<path d="M1616.9 1281.3L1634.4 1251.9L1599.4 1251.9Z" fill="#FFFF00"/>
<path d="M1644.8 1297.3L1662.3 1267.9L1627.3 1267.9Z" fill="#FFFF00"/>
<path d="M1672.7 1315.5L1690.2 1286.1L1655.2 1286.1Z" fill="#FFFF00"/>
<path d="M1700.6 1319.9L1718.1 1290.5L1683.1 1290.5Z" fill="#FFFF00"/>
<path d="M1728.5 1330.1L1746.0 1300.7L1711.0 1300.7Z" fill="#FFFF00"/>
<path d="M334.0 1255.7L352.2 1274.3L334.0 1292.9L315.8 1274.3Z" fill="#808000"/>
<path d="M361.9 1242.4L380.1 1261.0L361.9 1279.6L343.7 1261.0Z" fill="#808000"/>
<path d="M389.8 1256.5L408.0 1275.1L389.8 1293.7L371.6 1275.1Z" fill="#808000"/>
<path d="M417.7 1219.6L435.9 1238.2L417.7 1256.8L399.5 1238.2Z" fill="#808000"/>
<path d="M445.6 1201.9L463.8 1220.5L445.6 1239.1L427.4 1220.5Z" fill="#808000"/>
<path d="M473.4 1175.8L491.6 1194.4L473.4 1213.0L455.2 1194.4Z" fill="#808000"/>
<path d="M501.3 1217.9L519.5 1236.5L501.3 1255.1L483.1 1236.5Z" fill="#808000"/>
<path d="M529.2 1245.9L547.4 1264.5L529.2 1283.1L511.0 1264.5Z" fill="#808000"/>
<path d="M557.1 1150.2L575.3 1168.8L557.1 1187.4L538.9 1168.8Z" fill="#808000"/>
<path d="M585.0 1227.6L603.2 1246.2L585.0 1264.8L566.8 1246.2Z" fill="#808000"/>
<path d="M612.9 1217.0L631.1 1235.6L612.9 1254.2L594.7 1235.6Z" fill="#808000"/>
<path d="M640.8 1254.1L659.0 1272.7L640.8 1291.3L622.6 1272.7Z" fill="#808000"/>
<path d="M668.7 1187.2L686.9 1205.8L668.7 1224.4L650.5 1205.8Z" fill="#808000"/>
<path d="M696.6 1224.4L714.8 1243.0L696.6 1261.6L678.4 1243.0Z" fill="#808000"/>
<path d="M724.5 1204.3L742.7 1222.9L724.5 1241.5L706.3 1222.9Z" fill="#808000"/>
<path d="M752.4 1162.0L770.6 1180.6L752.4 1199.2L734.1 1180.6Z" fill="#808000"/>
<path d="M780.2 1311.2L798.4 1329.8L780.2 1348.4L762.0 1329.8Z" fill="#808000"/>
<path d="M808.1 1230.2L826.3 1248.8L808.1 1267.4L789.9 1248.8Z" fill="#808000"/>
<path d="M836.0 1259.2L854.2 1277.8L836.0 1296.4L817.8 1277.8Z" fill="#808000"/>
<path d="M863.9 1230.1L882.1 1248.7L863.9 1267.3L845.7 1248.7Z" fill="#808000"/>
<path d="M891.8 1209.9L910.0 1228.5L891.8 1247.1L873.6 1228.5Z" fill="#808000"/>
<path d="M919.7 1302.6L937.9 1321.2L919.7 1339.8L901.5 1321.2Z" fill="#808000"/>
<path d="M947.6 1212.7L965.8 1231.3L947.6 1249.9L929.4 1231.3Z" fill="#808000"/>
<path d="M975.5 1253.4L993.7 1272.0L975.5 1290.6L957.3 1272.0Z" fill="#808000"/>
<path d="M1003.4 1264.2L1021.6 1282.8L1003.4 1301.4L985.2 1282.8Z" fill="#808000"/>
<path d="M1031.2 1220.2L1049.5 1238.8L1031.2 1257.4L1013.0 1238.8Z" fill="#808000"/>
<path d="M1059.1 1278.4L1077.3 1297.0L1059.1 1315.6L1040.9 1297.0Z" fill="#808000"/>
<path d="M1087.0 1233.3L1105.2 1251.9L1087.0 1270.5L1068.8 1251.9Z" fill="#808000"/>
<path d="M1114.9 1224.6L1133.1 1243.2L1114.9 1261.8L1096.7 1243.2Z" fill="#808000"/>
<path d="M1142.8 1274.3L1161.0 1292.9L1142.8 1311.5L1124.6 1292.9Z" fill="#808000"/>
<path d="M1170.7 1264.3L1188.9 1282.9L1170.7 1301.5L1152.5 1282.9Z" fill="#808000"/>
<path d="M1198.6 1264.8L1216.8 1283.4L1198.6 1302.0L1180.4 1283.4Z" fill="#808000"/>
<path d="M1226.5 1278.7L1244.7 1297.3L1226.5 1315.9L1208.3 1297.3Z" fill="#808000"/>
<path d="M1254.4 1196.6L1272.6 1215.2L1254.4 1233.8L1236.2 1215.2Z" fill="#808000"/>
<path d="M1282.3 1280.7L1300.5 1299.3L1282.3 1317.9L1264.1 1299.3Z" fill="#808000"/>
<path d="M1310.2 1259.5L1328.4 1278.1L1310.2 1296.7L1292.0 1278.1Z" fill="#808000"/>
<path d="M1338.0 1227.6L1356.2 1246.2L1338.0 1264.8L1319.8 1246.2Z" fill="#808000"/>
<path d="M1365.9 1248.8L1384.1 1267.4L1365.9 1286.0L1347.7 1267.4Z" fill="#808000"/>
<path d="M1393.8 1258.5L1412.0 1277.1L1393.8 1295.7L1375.6 1277.1Z" fill="#808000"/>
<path d="M1421.7 1230.1L1439.9 1248.7L1421.7 1267.3L1403.5 1248.7Z" fill="#808000"/>
<path d="M1449.6 1295.8L1467.8 1314.4L1449.6 1333.0L1431.4 1314.4Z" fill="#808000"/>
<path d="M1477.5 1238.1L1495.7 1256.7L1477.5 1275.3L1459.3 1256.7Z" fill="#808000"/>
<path d="M1505.4 1260.8L1523.6 1279.4L1505.4 1298.0L1487.2 1279.4Z" fill="#808000"/>
<path d="M1533.3 1271.7L1551.5 1290.3L1533.3 1308.9L1515.1 1290.3Z" fill="#808000"/>
<path d="M1561.2 1271.1L1579.4 1289.7L1561.2 1308.3L1543.0 1289.7Z" fill="#808000"/>
<path d="M1589.0 1248.2L1607.2 1266.8L1589.0 1285.4L1570.8 1266.8Z" fill="#808000"/>
<path d="M1616.9 1245.8L1635.1 1264.4L1616.9 1283.0L1598.7 1264.4Z" fill="#808000"/>
<path d="M1644.8 1265.3L1663.0 1283.9L1644.8 1302.5L1626.6 1283.9Z" fill="#808000"/>
<path d="M1672.7 1291.8L1690.9 1310.4L1672.7 1329.0L1654.5 1310.4Z" fill="#808000"/>
<path d="M1700.6 1266.4L1718.8 1285.0L1700.6 1303.6L1682.4 1285.0Z" fill="#808000"/>
<path d="M1728.5 1279.4L1746.7 1298.0L1728.5 1316.6L1710.3 1298.0Z" fill="#808000"/>
<path d="M314.1 1273.6L343.9 1256.4L343.9 1290.8Z" fill="#000080"/>
<path d="M342.0 1353.4L371.8 1336.2L371.8 1370.6Z" fill="#000080"/>
<path d="M369.9 1316.8L399.7 1299.6L399.7 1334.0Z" fill="#000080"/>
<path d="M397.8 1270.3L427.6 1253.1L427.6 1287.5Z" fill="#000080"/>
<path d="M425.7 1310.2L455.5 1293.0L455.5 1327.4Z" fill="#000080"/>
<path d="M453.6 1256.9L483.4 1239.7L483.4 1274.1Z" fill="#000080"/>
<path d="M481.5 1256.3L511.3 1239.1L511.3 1273.5Z" fill="#000080"/>
<path d="M509.4 1272.4L539.2 1255.2L539.2 1289.6Z" fill="#000080"/>
<path d="M537.3 1296.9L567.1 1279.7L567.1 1314.1Z" fill="#000080"/>
<path d="M565.1 1288.8L594.9 1271.6L594.9 1306.0Z" fill="#000080"/>
<path d="M593.0 1253.8L622.8 1236.6L622.8 1271.0Z" fill="#000080"/>
<path d="M620.9 1275.0L650.7 1257.8L650.7 1292.2Z" fill="#000080"/>
<path d="M648.8 1224.5L678.6 1207.3L678.6 1241.7Z" fill="#000080"/>
<path d="M676.7 1224.5L706.5 1207.3L706.5 1241.7Z" fill="#000080"/>
<path d="M704.6 1276.8L734.4 1259.6L734.4 1294.0Z" fill="#000080"/>
<path d="M732.5 1267.6L762.3 1250.4L762.3 1284.8Z" fill="#000080"/>
<path d="M760.4 1279.2L790.2 1262.0L790.2 1296.4Z" fill="#000080"/>
<path d="M788.3 1236.5L818.1 1219.3L818.1 1253.7Z" fill="#000080"/>
<path d="M816.2 1272.7L846.0 1255.5L846.0 1289.9Z" fill="#000080"/>
<path d="M844.0 1247.8L873.8 1230.6L873.8 1265.0Z" fill="#000080"/>
<path d="M871.9 1232.2L901.7 1215.0L901.7 1249.4Z" fill="#000080"/>
<path d="M899.8 1288.2L929.6 1271.0L929.6 1305.4Z" fill="#000080"/>
<path d="M927.7 1277.5L957.5 1260.3L957.5 1294.7Z" fill="#000080"/>
<path d="M955.6 1275.0L985.4 1257.8L985.4 1292.2Z" fill="#000080"/>
<path d="M983.5 1301.1L1013.3 1283.9L1013.3 1318.3Z" fill="#000080"/>
<path d="M1011.4 1284.4L1041.2 1267.2L1041.2 1301.6Z" fill="#000080"/>
<path d="M1039.3 1284.0L1069.1 1266.8L1069.1 1301.2Z" fill="#000080"/>
<path d="M1067.2 1278.7L1097.0 1261.5L1097.0 1295.9Z" fill="#000080"/>
<path d="M1095.1 1268.0L1124.9 1250.8L1124.9 1285.2Z" fill="#000080"/>
<path d="M1122.9 1305.2L1152.7 1288.0L1152.7 1322.4Z" fill="#000080"/>
<path d="M1150.8 1276.2L1180.6 1259.0L1180.6 1293.4Z" fill="#000080"/>
<path d="M1178.7 1292.6L1208.5 1275.4L1208.5 1309.8Z" fill="#000080"/>
<path d="M1206.6 1306.5L1236.4 1289.3L1236.4 1323.7Z" fill="#000080"/>
<path d="M1234.5 1262.3L1264.3 1245.1L1264.3 1279.5Z" fill="#000080"/>
<path d="M1262.4 1281.3L1292.2 1264.1L1292.2 1298.5Z" fill="#000080"/>
<path d="M1290.3 1297.0L1320.1 1279.8L1320.1 1314.2Z" fill="#000080"/>
<path d="M1318.2 1325.4L1348.0 1308.2L1348.0 1342.6Z" fill="#000080"/>
<path d="M1346.1 1309.3L1375.9 1292.1L1375.9 1326.5Z" fill="#000080"/>
<path d="M1374.0 1310.5L1403.8 1293.3L1403.8 1327.7Z" fill="#000080"/>
<path d="M1401.8 1316.6L1431.6 1299.4L1431.6 1333.8Z" fill="#000080"/>
<path d="M1429.7 1314.7L1459.5 1297.5L1459.5 1331.9Z" fill="#000080"/>
<path d="M1457.6 1286.9L1487.4 1269.7L1487.4 1304.1Z" fill="#000080"/>
<path d="M1485.5 1308.4L1515.3 1291.2L1515.3 1325.6Z" fill="#000080"/>
<path d="M1513.4 1298.9L1543.2 1281.7L1543.2 1316.1Z" fill="#000080"/>
<path d="M1541.3 1319.3L1571.1 1302.1L1571.1 1336.5Z" fill="#000080"/>
<path d="M1569.2 1321.2L1599.0 1304.0L1599.0 1338.4Z" fill="#000080"/>
<path d="M1597.1 1335.6L1626.9 1318.4L1626.9 1352.8Z" fill="#000080"/>
<path d="M1625.0 1317.1L1654.8 1299.9L1654.8 1334.3Z" fill="#000080"/>
<path d="M1652.9 1315.0L1682.7 1297.8L1682.7 1332.2Z" fill="#000080"/>
<path d="M1680.7 1323.3L1710.5 1306.1L1710.5 1340.5Z" fill="#000080"/>
<path d="M1708.6 1358.8L1738.4 1341.6L1738.4 1376.0Z" fill="#000080"/>
</g>
<line x1="333.8" y1="468.4" x2="1706" y2="468.4" stroke="#FF0000" stroke-width="8.8" stroke-dasharray="11.2 31.32"/>
<line x1="337" y1="1262.5" x2="1709" y2="1262.5" stroke="#FF0000" stroke-width="8.8" stroke-dasharray="11.2 31.3"/>
<rect x="453.3" y="679.8" width="25.4" height="25.4" fill="#0000FF"/><text x="541" y="712.0" class="lg">55°</text><circle cx="466.0" cy="762.2" r="14.3" fill="#00FFFF"/><text x="541" y="781.7" class="lg">60°</text><path d="M466.0 812.3L483.5 841.7L448.5 841.7Z" fill="#FF00FF"/><text x="541" y="851.4" class="lg">65°</text><path d="M466.0 921.2L483.5 891.8L448.5 891.8Z" fill="#FFFF00"/><text x="541" y="921.1" class="lg">70°</text><path d="M466.0 952.7L484.2 971.3L466.0 989.9L447.8 971.3Z" fill="#808000"/><text x="541" y="990.8" class="lg">75°</text><path d="M446.1 1041.0L475.9 1023.8L475.9 1058.2Z" fill="#000080"/><text x="541" y="1060.5" class="lg">80°</text>
<text x="310" y="175.5" text-anchor="end" class="tk">0.08</text><text x="310" y="335.0" text-anchor="end" class="tk">0.04</text><text x="310" y="494.5" text-anchor="end" class="tk">0.00</text><text x="310" y="654.0" text-anchor="end" class="tk">-0.04</text><text x="310" y="813.5" text-anchor="end" class="tk">-0.08</text><text x="310" y="951.5" text-anchor="end" class="tk">3.0</text><text x="310" y="1122.2" text-anchor="end" class="tk">1.5</text><text x="310" y="1293.0" text-anchor="end" class="tk">0.0</text><text x="310" y="1463.8" text-anchor="end" class="tk">-1.5</text><text x="310" y="1634.5" text-anchor="end" class="tk">-3.0</text><text x="333.0" y="1759.5" text-anchor="middle" class="tk">300</text><text x="611.9" y="1759.5" text-anchor="middle" class="tk">400</text><text x="890.8" y="1759.5" text-anchor="middle" class="tk">500</text><text x="1169.7" y="1759.5" text-anchor="middle" class="tk">600</text><text x="1448.6" y="1759.5" text-anchor="middle" class="tk">700</text><text x="1727.5" y="1759.5" text-anchor="middle" class="tk">800</text>
<text class="xl" x="1032" y="1862" text-anchor="middle">Wavelength (nm)</text>
<text transform="translate(100.00,577.44) rotate(-90) scale(1.147,1.003)" style="font-family:'Noto Serif CJK SC','Liberation Serif',serif;font-style:normal;font-size:72px;fill:#000">δ</text>
<text transform="translate(101.90,528.58) rotate(-90) scale(1.048,1.000)" style="font-family:'DejaVu Serif','Liberation Serif',serif;font-style:italic;font-size:78px;fill:#000">ψ</text>
<text transform="translate(100.06,454.12) rotate(-90) scale(1.105,0.986)" style="font-family:'Liberation Serif',serif;font-style:normal;font-size:84px;fill:#000">(</text>
<text transform="translate(100.50,423.88) rotate(-90) scale(0.996,1.000)" style="font-family:'Liberation Serif',serif;font-style:normal;font-size:84px;fill:#000">°</text>
<text transform="translate(100.06,391.29) rotate(-90) scale(1.062,0.986)" style="font-family:'Liberation Serif',serif;font-style:normal;font-size:84px;fill:#000">)</text>
<text transform="translate(101.89,1372.23) rotate(-90) scale(1.144,1.010)" style="font-family:'Noto Serif CJK SC','Liberation Serif',serif;font-style:normal;font-size:72px;fill:#000">δ</text>
<text transform="translate(102.10,1330.05) rotate(-90) scale(1.063,1.004)" style="font-family:'Noto Serif CJK SC','Liberation Serif',serif;font-style:normal;font-size:78px;fill:#000">Δ</text>
<text transform="translate(102.01,1255.16) rotate(-90) scale(1.114,0.988)" style="font-family:'Liberation Serif',serif;font-style:normal;font-size:84px;fill:#000">(</text>
<text transform="translate(102.26,1225.05) rotate(-90) scale(1.012,0.992)" style="font-family:'Liberation Serif',serif;font-style:normal;font-size:84px;fill:#000">°</text>
<text transform="translate(102.01,1191.93) rotate(-90) scale(1.043,0.988)" style="font-family:'Liberation Serif',serif;font-style:normal;font-size:84px;fill:#000">)</text>
</svg></body></html>
